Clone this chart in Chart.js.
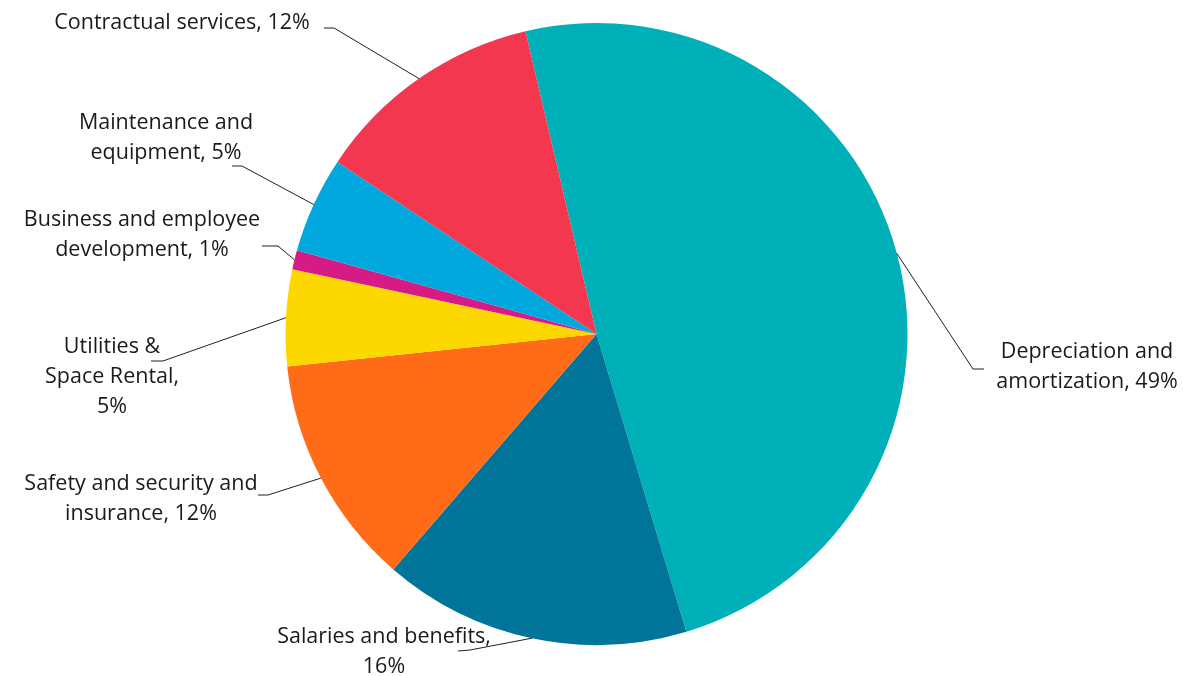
<!DOCTYPE html>
<html>
<head>
<meta charset="utf-8">
<script src="https://cdn.jsdelivr.net/npm/chart.js@4/dist/chart.umd.min.js"></script>
<style>
  html, body { margin: 0; padding: 0; background: #fff; }
  #wrap { width: 1183px; height: 676px; }
</style>
</head>
<body>
<div id="wrap"><canvas id="expenses"></canvas></div>
<script>
// slice order runs clockwise starting just left of 12 o'clock
const categories = [
    'Depreciation and amortization',
    'Salaries and benefits',
    'Safety and security and insurance',
    'Utilities & Space Rental',
    'Business and employee development',
    'Maintenance and equipment',
    'Contractual services'
];
const shares = [49, 16, 12, 5, 1, 5, 12];

// label text as it wraps in the original
const labelLines = [
    ['Depreciation and', 'amortization, 49%'],
    ['Salaries and benefits,', '16%'],
    ['Safety and security and', 'insurance, 12%'],
    ['Utilities &', 'Space Rental,', '5%'],
    ['Business and employee', 'development, 1%'],
    ['Maintenance and', 'equipment, 5%'],
    ['Contractual services, 12%']
];

const sliceColors = ['#00B0B9', '#007499', '#FF6B17', '#FDD800', '#D61C84', '#00A8DE', '#F2374F'];

// where each leader line bends and where its text sits (px)
const labelLayout = [
    { elbow: [973, 369], tail: [984, 369], text: [1087, 352] },
    { elbow: [470, 650], tail: [458, 651], text: [384, 637] },
    { elbow: [268, 495], tail: [258, 495], text: [141, 484] },
    { elbow: [163, 361], tail: [151, 361], text: [112, 347] },
    { elbow: [278, 246], tail: [262, 246], text: [142, 220] },
    { elbow: [242, 166], tail: [232, 166], text: [166, 123] },
    { elbow: [334, 28],  tail: [324, 28],  text: [182, 23] }
];

const leaderLabels = {
    id: 'leaderLabels',
    afterDatasetsDraw(chart) {
        const ctx = chart.ctx;
        const arcs = chart.getDatasetMeta(0).data;
        ctx.save();
        ctx.strokeStyle = '#1f1f1f';
        ctx.lineWidth = 1;
        ctx.fillStyle = '#1a1a1a';
        ctx.font = '21.5px "Open Sans"';
        ctx.textAlign = 'center';
        ctx.textBaseline = 'middle';
        arcs.forEach((arc, i) => {
            const p = arc.getProps(['x', 'y', 'startAngle', 'endAngle', 'outerRadius'], true);
            const mid = (p.startAngle + p.endAngle) / 2;
            const sx = p.x + Math.cos(mid) * p.outerRadius;
            const sy = p.y + Math.sin(mid) * p.outerRadius;
            const lay = labelLayout[i];
            ctx.beginPath();
            ctx.moveTo(sx, sy);
            ctx.lineTo(lay.elbow[0], lay.elbow[1]);
            ctx.lineTo(lay.tail[0], lay.tail[1]);
            ctx.stroke();
            labelLines[i].forEach((line, j) => {
                ctx.fillText(line, lay.text[0], lay.text[1] + j * 30);
            });
        });
        ctx.restore();
    }
};

const ctx = document.getElementById('expenses').getContext('2d');
new Chart(ctx, {
    type: 'pie',
    data: {
        labels: categories,
        datasets: [{
            data: shares,
            backgroundColor: sliceColors,
            borderWidth: 0
        }]
    },
    options: {
        responsive: true,
        maintainAspectRatio: false,
        animation: false,
        rotation: -13.2,
        layout: { padding: { top: 23, bottom: 31, left: 10, right: 0 } },
        plugins: {
            legend: { display: false },
            tooltip: { enabled: false }
        }
    },
    plugins: [leaderLabels]
});
</script>
</body>
</html>
